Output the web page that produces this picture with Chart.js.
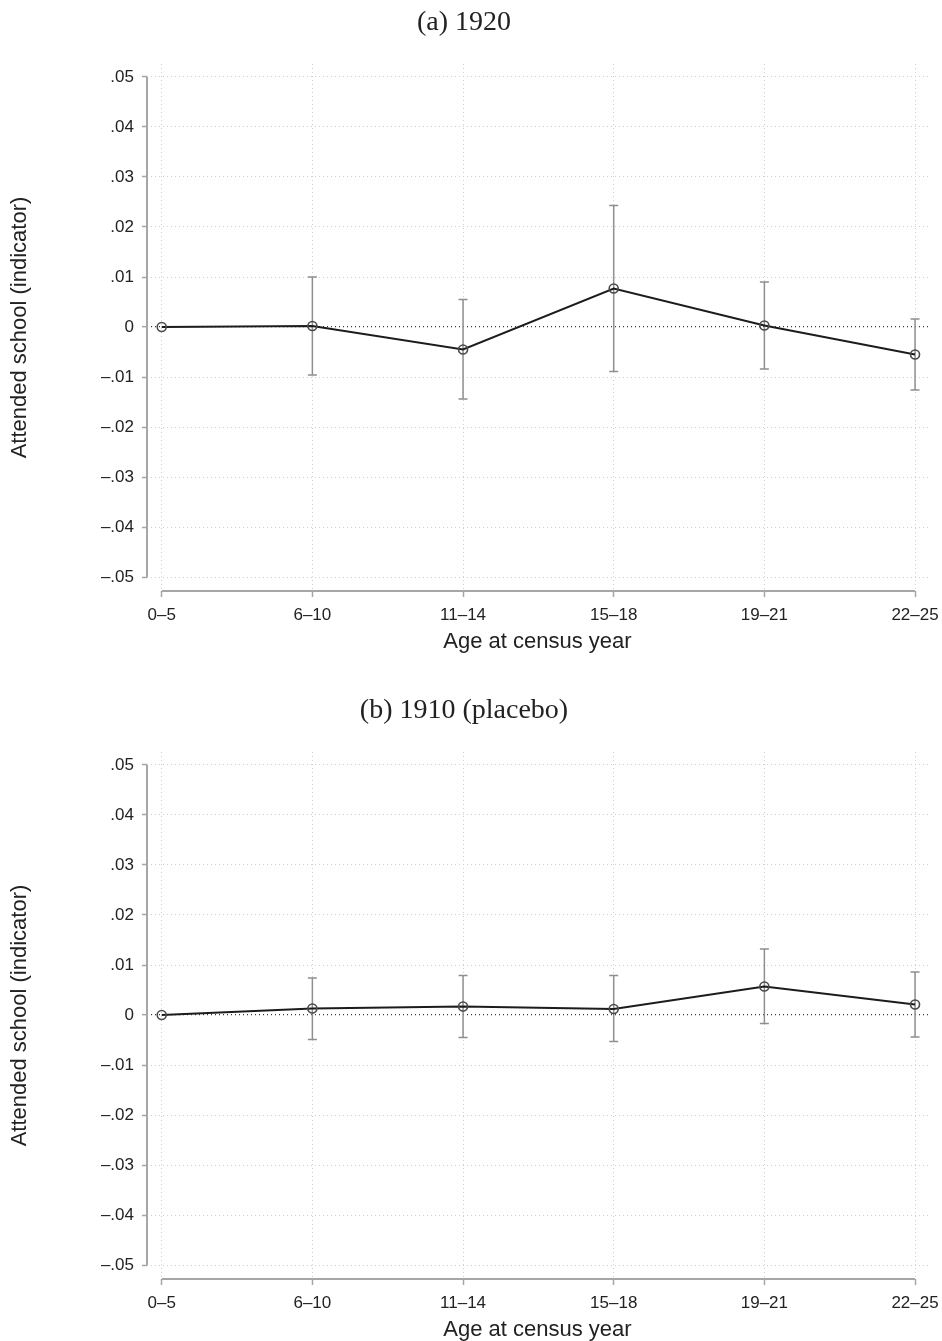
<!DOCTYPE html>
<html>
<head>
<meta charset="utf-8">
<script src="https://cdn.jsdelivr.net/npm/chart.js@4.4.1/dist/chart.umd.min.js"></script>
<style>
  html, body { margin:0; padding:0; background:#fff; overflow:hidden; }
  #wrap { position:relative; width:942px; height:1341px; overflow:hidden; }
  canvas { position:absolute; left:0; }
</style>
</head>
<body>
<div id="wrap">
  <canvas id="c1" width="942" height="655" style="top:0px"></canvas>
  <canvas id="c2" width="942" height="655" style="top:688px"></canvas>
</div>
<script>
// ---- data ----
const categories = ['0–5', '6–10', '11–14', '15–18', '19–21', '22–25'];
const yTicks = [-0.05, -0.04, -0.03, -0.02, -0.01, 0, 0.01, 0.02, 0.03, 0.04, 0.05];
const yTickLabels = ['–.05', '–.04', '–.03', '–.02', '–.01', '0', '.01', '.02', '.03', '.04', '.05'];

const coef1920 = [0, 0.0002, -0.0045, 0.0077, 0.0003, -0.0055];
const lo1920   = [null, -0.0096, -0.0144, -0.0089, -0.0084, -0.0126];
const hi1920   = [null, 0.0100, 0.0055, 0.0243, 0.0090, 0.0016];

const coef1910 = [0, 0.0013, 0.0017, 0.0012, 0.0057, 0.0021];
const lo1910   = [null, -0.0049, -0.0045, -0.0053, -0.0017, -0.0044];
const hi1910   = [null, 0.0074, 0.0079, 0.0079, 0.0132, 0.0086];

const title1920 = '(a) 1920';
const title1910 = '(b) 1910 (placebo)';
const yTitle = 'Attended school (indicator)';
const xTitle = 'Age at census year';

// ---- styling / drawing ----
const SANS = "'Liberation Sans', Arial, sans-serif";
const SERIF = "'Liberation Serif', 'Times New Roman', serif";
const AXIS_GREY = '#a6a6a6';

const decor = {
  id: 'decor',
  beforeDatasetsDraw(chart, args, opts) {
    const { ctx, chartArea, scales: { x, y } } = chart;
    ctx.save();
    // axis lines (Stata style, spanning only the tick range)
    ctx.strokeStyle = AXIS_GREY;
    ctx.lineWidth = 2;
    ctx.beginPath();
    ctx.moveTo(chartArea.left, y.getPixelForValue(yTicks[yTicks.length - 1]));
    ctx.lineTo(chartArea.left, y.getPixelForValue(yTicks[0]));
    ctx.moveTo(x.getPixelForValue(0), chartArea.bottom);
    ctx.lineTo(x.getPixelForValue(categories.length - 1), chartArea.bottom);
    ctx.stroke();
    // confidence intervals
    ctx.strokeStyle = '#8f8f8f';
    ctx.lineWidth = 1.5;
    opts.lo.forEach((l, i) => {
      const h = opts.hi[i];
      if (l == null || h == null) return;
      const px = x.getPixelForValue(i);
      const p1 = y.getPixelForValue(l);
      const p2 = y.getPixelForValue(h);
      ctx.beginPath();
      ctx.moveTo(px, p1); ctx.lineTo(px, p2);
      ctx.moveTo(px - 4.5, p1); ctx.lineTo(px + 4.5, p1);
      ctx.moveTo(px - 4.5, p2); ctx.lineTo(px + 4.5, p2);
      ctx.stroke();
    });
    ctx.restore();
  }
};

function makeChart(id, title, coef, lo, hi) {
  return new Chart(document.getElementById(id), {
    type: 'line',
    data: {
      datasets: [{
        data: coef.map((v, i) => ({ x: i, y: v })),
        borderColor: '#1c1c1c',
        borderWidth: 2,
        pointRadius: 4.5,
        pointBorderWidth: 1.6,
        pointBorderColor: '#4a4a4a',
        pointBackgroundColor: 'rgba(0,0,0,0)',
        tension: 0,
        clip: false
      }]
    },
    options: {
      responsive: false,
      animation: false,
      devicePixelRatio: 1,
      layout: { padding: { left: 0, right: 14, top: 0, bottom: 0 } },
      plugins: {
        legend: { display: false },
        tooltip: { enabled: false },
        title: {
          display: true,
          text: title,
          color: '#222',
          font: { family: SERIF, size: 28, weight: 'normal', lineHeight: 1.2 },
          padding: { top: 6, bottom: 24.4 }
        },
        decor: { lo: lo, hi: hi }
      },
      scales: {
        x: {
          type: 'linear',
          min: -0.0976,
          max: 5.086,
          afterFit(s) { s.height = 64; s.paddingLeft = 0; s.paddingRight = 0; },
          afterBuildTicks(s) { s.ticks = categories.map((_, i) => ({ value: i })); },
          ticks: {
            autoSkip: false, maxRotation: 0, padding: 8,
            color: '#222',
            font: { family: SANS, size: 17 },
            callback: (v) => categories[Math.round(v)]
          },
          grid: {
            color: '#cfcfcf', lineWidth: 1,
            tickLength: 6, tickColor: AXIS_GREY, tickWidth: 1.5, tickBorderDash: []
          },
          border: { display: false, dash: [1, 3] },
          title: {
            display: true, text: xTitle, color: '#222',
            font: { family: SANS, size: 22, lineHeight: 1.2 },
            padding: { top: 0, bottom: 0 }
          }
        },
        y: {
          type: 'linear',
          min: -0.0528,
          max: 0.0526,
          afterFit(s) { s.width = 147; },
          afterBuildTicks(s) { s.ticks = yTicks.map(v => ({ value: v })); },
          ticks: {
            autoSkip: false, padding: 8,
            color: '#222',
            font: { family: SANS, size: 17 },
            callback: (v) => {
              const k = yTicks.findIndex(t => Math.abs(t - v) < 1e-9);
              return k >= 0 ? yTickLabels[k] : '';
            }
          },
          grid: {
            color: (ctx) => (ctx.tick && Math.abs(ctx.tick.value) < 1e-9) ? '#3a3a3a' : '#cfcfcf',
            lineWidth: (ctx) => (ctx.tick && Math.abs(ctx.tick.value) < 1e-9) ? 1.3 : 1,
            tickLength: 5, tickColor: AXIS_GREY, tickWidth: 1.5, tickBorderDash: []
          },
          border: { display: false, dash: [1, 3] },
          title: {
            display: true, text: yTitle, color: '#222',
            font: { family: SANS, size: 22, lineHeight: 1.2 },
            padding: { top: 7, bottom: 0 }
          }
        }
      }
    },
    plugins: [decor]
  });
}

makeChart('c1', title1920, coef1920, lo1920, hi1920);
makeChart('c2', title1910, coef1910, lo1910, hi1910);
</script>
</body>
</html>
